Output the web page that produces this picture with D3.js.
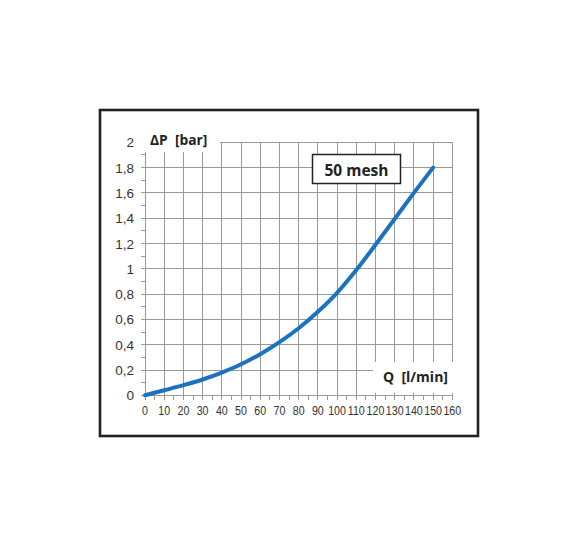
<!DOCTYPE html>
<html><head><meta charset="utf-8">
<script src="https://cdn.jsdelivr.net/npm/d3@7"></script>
<style>
html,body{margin:0;padding:0;background:#fff;}
svg{display:block;}
.tick-y{font-family:"Liberation Sans Narrow","Liberation Sans",Arial,sans-serif;font-size:13.5px;fill:#333;}
.tick-x{font-family:"Liberation Sans Narrow","Liberation Sans",Arial,sans-serif;font-size:13px;fill:#333;}
.lbl{font-family:"Open Sans","Noto Sans",sans-serif;font-weight:bold;fill:#222;}
</style>
</head><body>
<script>
// Data
const flowQ = [0,10,20,30,40,50,60,70,80,90,100,110,120,130,140,150];
const deltaP = [0,0.04,0.08,0.125,0.18,0.245,0.325,0.42,0.53,0.66,0.81,0.99,1.19,1.395,1.6,1.8];
const xTicks = [0,10,20,30,40,50,60,70,80,90,100,110,120,130,140,150,160];
const yTicks = [0,0.2,0.4,0.6,0.8,1,1.2,1.4,1.6,1.8,2];
const yTickLabels = ["0","0,2","0,4","0,6","0,8","1","1,2","1,4","1,6","1,8","2"];
const yLabel = "ΔP  [bar]";
const xLabel = "Q  [l/min]";
const boxLabel = "50 mesh";

const W = 581, H = 549;
const svg = d3.select("body").append("svg").attr("width", W).attr("height", H);

// outer frame
svg.append("rect").attr("x", 100).attr("y", 110).attr("width", 378).attr("height", 326)
  .attr("fill", "none").attr("stroke", "#222").attr("stroke-width", 2.6);

const x = d3.scaleLinear().domain([0,160]).range([145,452.3]);
const y = d3.scaleLinear().domain([0,2]).range([395.3,142.3]);

const g = svg.append("g");
// grid
g.selectAll("line.vg").data(xTicks.filter(d=>d>0)).join("line")
  .attr("x1", d=>x(d)).attr("x2", d=>x(d)).attr("y1", y(2)).attr("y2", y(0))
  .attr("stroke", "#999").attr("stroke-width", 1).attr("shape-rendering","crispEdges");
g.selectAll("line.hg").data(yTicks).join("line")
  .attr("x1", x(0)-4).attr("x2", x(160)).attr("y1", d=>y(d)).attr("y2", d=>y(d))
  .attr("stroke", "#999").attr("stroke-width", 1).attr("shape-rendering","crispEdges");
// y axis line
g.append("line").attr("x1", x(0)).attr("x2", x(0)).attr("y1", y(2)).attr("y2", y(0))
  .attr("stroke", "#999").attr("stroke-width", 1).attr("shape-rendering","crispEdges");
// y minor ticks
const yMinor = d3.range(1,20,2).map(i=>i/10);
g.selectAll("line.ym").data(yMinor).join("line")
  .attr("x1", x(0)-4).attr("x2", x(0)).attr("y1", d=>y(d)).attr("y2", d=>y(d))
  .attr("stroke", "#999").attr("stroke-width", 1).attr("shape-rendering","crispEdges");

// white label boxes covering grid
svg.append("rect").attr("x", 139).attr("y", 124).attr("width", 81).attr("height", 28).attr("fill", "#fff");
svg.append("rect").attr("x", 373).attr("y", 362).attr("width", 85).attr("height", 31).attr("fill", "#fff");

// x ticks (every 5) below axis
const xAll = d3.range(0,161,5);
g.selectAll("line.xt").data(xAll).join("line")
  .attr("x1", d=>x(d)).attr("x2", d=>x(d)).attr("y1", y(0)).attr("y2", y(0)+5)
  .attr("stroke", "#999").attr("stroke-width", 1).attr("shape-rendering","crispEdges");

// tick labels (horizontally condensed like the reference)
svg.selectAll("text.tick-x").data(xTicks).join("text").attr("class","tick-x")
  .attr("transform", d=>`translate(${x(d)},415) scale(0.82,1)`)
  .attr("text-anchor","middle").text(d=>d);
svg.selectAll("text.tick-y").data(yTicks).join("text").attr("class","tick-y")
  .attr("x", 134).attr("y", d=>y(d)+5).attr("text-anchor","end").text((d,i)=>yTickLabels[i]);

// axis labels
svg.append("text").attr("class","lbl").attr("x",150).attr("y",145).attr("font-size","13.8px")
  .style("white-space","pre").text(yLabel);
svg.append("text").attr("class","lbl").attr("x",383).attr("y",382).attr("font-size","14px")
  .style("white-space","pre").text(xLabel);

// curve
const line = d3.line().x((d,i)=>x(flowQ[i])).y(d=>y(d)).curve(d3.curveCatmullRom.alpha(0.5));
svg.append("path").datum(deltaP).attr("d", line).attr("fill","none")
  .attr("stroke","#1a72c0").attr("stroke-width",4).attr("stroke-linecap","round");

// 50 mesh box
svg.append("rect").attr("x",312.5).attr("y",154.5).attr("width",88).attr("height",29)
  .attr("fill","#fff").attr("stroke","#222").attr("stroke-width",1.5);
svg.append("text").attr("class","lbl").attr("x",356.5).attr("y",176).attr("text-anchor","middle")
  .attr("font-size","15.5px").text(boxLabel);
</script>
</body></html>
